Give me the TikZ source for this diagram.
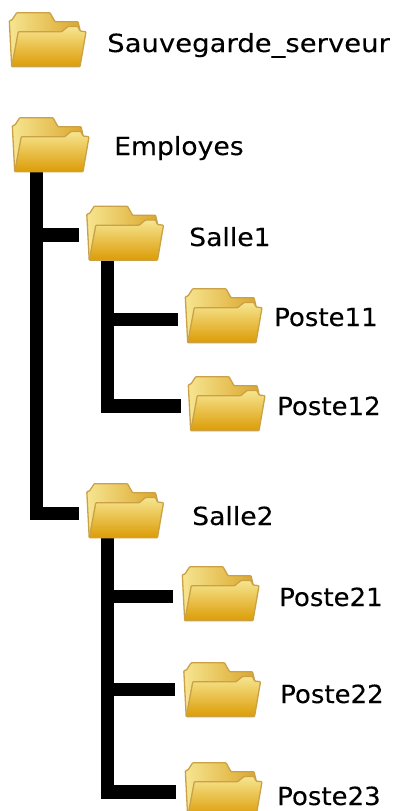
\documentclass[tikz,border=0pt]{standalone}
\usepackage{fontspec}
\setmainfont[FakeBold=0.12]{DejaVu Sans}
\definecolor{fedge}{HTML}{CBA147}
\definecolor{ftop}{HTML}{F6E590}
\definecolor{fmid}{HTML}{EFC94F}
\definecolor{fbot}{HTML}{DC9C06}
\definecolor{fback}{HTML}{DBA62C}
\tikzset{
  x=1pt,y=-1pt,
  foldernode/.style={minimum width=77pt,minimum height=55pt,inner sep=0pt,outer sep=0pt,anchor=north west},
  lab/.style={anchor=base west,inner sep=0pt,font=\fontsize{25}{29}\selectfont},
  wire/.style={line width=13.5pt,black,line cap=butt,line join=miter},
  pics/folderart/.style={code={
    \path[draw=fedge,line width=1.3pt,left color=ftop,right color=fback,line join=round,rounded corners=0.8pt]
      (0.3,8.7) -- (3,8) -- (7.7,0.7) -- (41,0.7) -- (46,9.7) -- (69,9.7) -- (71,18) -- (71,30) -- (2.7,54.7) -- cycle;
    \path[draw=fedge,line width=1.3pt,top color=ftop,middle color=fmid,bottom color=fbot,line join=round,rounded corners=0.8pt]
      (9.3,19.7) -- (52.7,19.7) -- (59,14.5) -- (69,14.5) -- (71,19) -- (77,19.7) -- (71,54.7) -- (2.7,54.7) -- cycle;
  }}
}
\begin{document}
\begin{tikzpicture}
\useasboundingbox (0,0) rectangle (394,811);
\fill[white] (0,0) rectangle (394,811);
\node[foldernode] (sauv) at (9,12) {};
\node[foldernode] (emp) at (12,117) {};
\node[foldernode] (s1) at (86.500,205.500) {};
\node[foldernode] (p11) at (185,288) {};
\node[foldernode] (p12) at (188,376) {};
\node[foldernode] (s2) at (86.500,483) {};
\node[foldernode] (p21) at (182,566) {};
\node[foldernode] (p22) at (183.500,662) {};
\node[foldernode] (p23) at (185,762) {};
\path (emp.south) ++(-14.25,0) coordinate (t1);
\path (s1.south) ++(-17.5,0) coordinate (t2);
\path (s2.south) ++(-17.5,0) coordinate (t3);
\path (s1.west) ++(-7.5,2) coordinate (e1);
\path (s2.west) ++(-7.5,3) coordinate (e2);
\path (p11.west) ++(-7,4) coordinate (e3);
\path (p12.west) ++(-7,2.5) coordinate (e4);
\path (p21.west) ++(-9,3) coordinate (e5);
\path (p22.west) ++(-8.5,0) coordinate (e6);
\path (p23.west) ++(-9,2.5) coordinate (e7);
\draw[wire] (t1) |- (e1);
\draw[wire] (t1) |- (e2);
\draw[wire] (t2) |- (e3);
\draw[wire] (t2) |- (e4);
\draw[wire] (t3) |- (e5);
\draw[wire] (t3) |- (e6);
\draw[wire] (t3) |- (e7);
\foreach \n in {sauv,emp,s1,p11,p12,s2,p21,p22,p23}
  \pic at (\n.north west) {folderart};
\node[lab] (l0) at (107,52) {\scalebox{1.10}[1]{Sauvegarde\_serveur}};
\node[lab] (l1) at (114,155) {\scalebox{1.066}[1]{Employes}};
\node[lab] (l2) at (189,246) {\scalebox{1.066}[1]{Salle1}};
\node[lab] (l3) at (274,326) {\scalebox{1.04}[1]{Poste11}};
\node[lab] (l4) at (277,415) {\scalebox{1.04}[1]{Poste12}};
\node[lab] (l5) at (192,525) {\scalebox{1.066}[1]{Salle2}};
\node[lab] (l6) at (279,606) {\scalebox{1.04}[1]{Poste21}};
\node[lab] (l7) at (280,703) {\scalebox{1.04}[1]{Poste22}};
\node[lab] (l8) at (277,805) {\scalebox{1.04}[1]{Poste23}};
\end{tikzpicture}
\end{document}
